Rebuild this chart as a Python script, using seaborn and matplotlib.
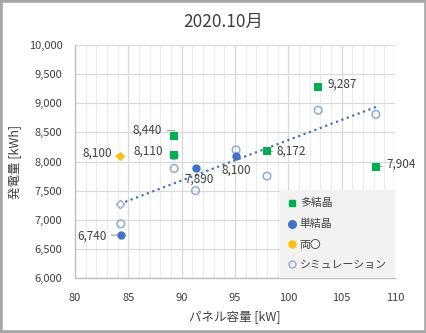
import matplotlib
matplotlib.use("Agg")
import matplotlib.pyplot as plt
import seaborn as sns
import pandas as pd
import numpy as np
from matplotlib.lines import Line2D
from matplotlib.patches import Rectangle

# ---- data ----
poly_x = [89.3, 89.3, 98.0, 102.8, 108.2]
poly_y = [8440, 8110, 8172, 9287, 7904]
mono_x = [84.3, 91.3, 95.1]
mono_y = [6740, 7890, 8100]
bif_x = [84.2]
bif_y = [8100]
sim_x = [84.3, 89.3, 89.3, 91.3, 95.1, 98.0, 102.8, 108.2]
sim_y = [6930, 8100, 7880, 7500, 8200, 7750, 8880, 8810]
simb_x = [84.2]
simb_y = [7270]
title = "2020.10月"
xlabel = "パネル容量 [kW]"
ylabel = "発電量 [kWh]"
legend_labels = ["多結晶", "単結晶", "両〇", "シミュレーション"]

sns.set_theme(style="white")
plt.rcParams['font.family'] = ['Noto Sans CJK JP', 'DejaVu Sans']

TXT = "#404040"
GREEN = "#00b050"
BLUE = "#4472c4"
ORANGE = "#ffc000"
LBLUE = "#8faadc"

fig = plt.figure(figsize=(4.27, 3.33), dpi=100)
ax = fig.add_axes([75/427, 1-278/333, 320/427, 233/333])

sim_df = pd.DataFrame({"x": sim_x + simb_x, "y": sim_y + simb_y})
sns.regplot(data=sim_df, x="x", y="y", ax=ax, ci=None, scatter=False, truncate=True,
            line_kws=dict(color=BLUE, lw=1.6, ls=(0, (1, 1.6))))

sns.scatterplot(x=sim_x, y=sim_y, ax=ax, marker="o", s=30, facecolor="none",
                edgecolor=LBLUE, linewidth=1.1, zorder=3)
sns.scatterplot(x=simb_x, y=simb_y, ax=ax, marker="D", s=18, facecolor="white",
                edgecolor=LBLUE, linewidth=1.0, zorder=3)
sns.scatterplot(x=poly_x, y=poly_y, ax=ax, marker="s", s=34, color=GREEN,
                linewidth=0, zorder=4)
sns.scatterplot(x=mono_x, y=mono_y, ax=ax, marker="o", s=36, color=BLUE,
                linewidth=0, zorder=4)
sns.scatterplot(x=bif_x, y=bif_y, ax=ax, marker="D", s=22, color=ORANGE,
                linewidth=0, zorder=4)

# data labels: (dx, dy in pixels, ha, leader style)
def lab(xs, ys, offs):
    for x, y, (dx, dy, ha, lead) in zip(xs, ys, offs):
        kw = {}
        if lead:
            conn = "angle,angleA=0,angleB=90,rad=0" if lead == "angle" else "arc3"
            kw["arrowprops"] = dict(arrowstyle="-", color="#a6a6a6", lw=0.9,
                                    shrinkA=1, shrinkB=0, connectionstyle=conn)
        ax.annotate(f"{y:,}", xy=(x, y), xytext=(dx, dy), textcoords="offset pixels",
                    ha=ha, va="center", fontsize=8.5, color=TXT, zorder=3.5, **kw)

lab(poly_x, poly_y, [(-12, 6, "right", "angle"), (-11, 4, "right", None),
                     (10, 0, "left", "line"), (9, 2, "left", None),
                     (11, 3, "left", "line")])
lab(mono_x, mono_y, [(-14, -1, "right", "line"), (4, -11, "center", None),
                     (0, -14, "center", None)])
lab(bif_x, bif_y, [(-8, 3, "right", "line")])

ax.set_xlim(80, 110)
ax.set_ylim(6000, 10000)
ax.set_xticks(np.arange(80, 111, 5))
ax.set_xticks(np.arange(80, 111, 1), minor=True)
ax.set_yticks(np.arange(6000, 10001, 500))
ax.yaxis.set_major_formatter(matplotlib.ticker.FuncFormatter(lambda v, p: f"{int(v):,}"))
ax.grid(True, which="major", color="#d9d9d9", lw=0.9)
ax.grid(True, which="minor", axis="x", color="#ececec", lw=0.8)
ax.set_axisbelow(True)
for s in ["top", "right"]:
    ax.spines[s].set_visible(False)
for s in ["left", "bottom"]:
    ax.spines[s].set_color("#bfbfbf")
    ax.spines[s].set_linewidth(1.0)
ax.tick_params(axis="both", which="both", length=0, labelsize=8, colors=TXT, pad=9)
ax.tick_params(axis="x", pad=11)
ax.set_xlabel(xlabel, fontsize=9, color=TXT, labelpad=5)
ax.set_ylabel(ylabel, fontsize=9, color=TXT, labelpad=5)
fig.text(223/427, 1-22/333, title, ha="center", va="center", fontsize=12.5, color=TXT)

handles = [
    Line2D([], [], marker="s", ls="", color=GREEN, markersize=5),
    Line2D([], [], marker="o", ls="", color=BLUE, markersize=5.5),
    Line2D([], [], marker="o", ls="", color=ORANGE, markersize=5),
    Line2D([], [], marker="o", ls="", markerfacecolor="none", markeredgecolor=LBLUE,
           markersize=5, markeredgewidth=1.0),
]
leg = ax.legend(handles, legend_labels, loc="lower right", bbox_to_anchor=(1.0, 0.0),
                frameon=True, fontsize=7.8, handlelength=0.7, handletextpad=0.35,
                labelspacing=0.95, borderpad=0.75, borderaxespad=0, fancybox=False)
leg.get_frame().set_facecolor("#f2f2f2")
leg.get_frame().set_edgecolor("none")
leg.get_frame().set_alpha(1)
leg.set_zorder(10)
for t in leg.get_texts():
    t.set_color(TXT)

fig.patches.append(Rectangle((0, 0), 1, 1, transform=fig.transFigure, fill=False,
                             edgecolor="#a6a6a6", lw=4, zorder=20))

fig.savefig("out.png", dpi=100)
